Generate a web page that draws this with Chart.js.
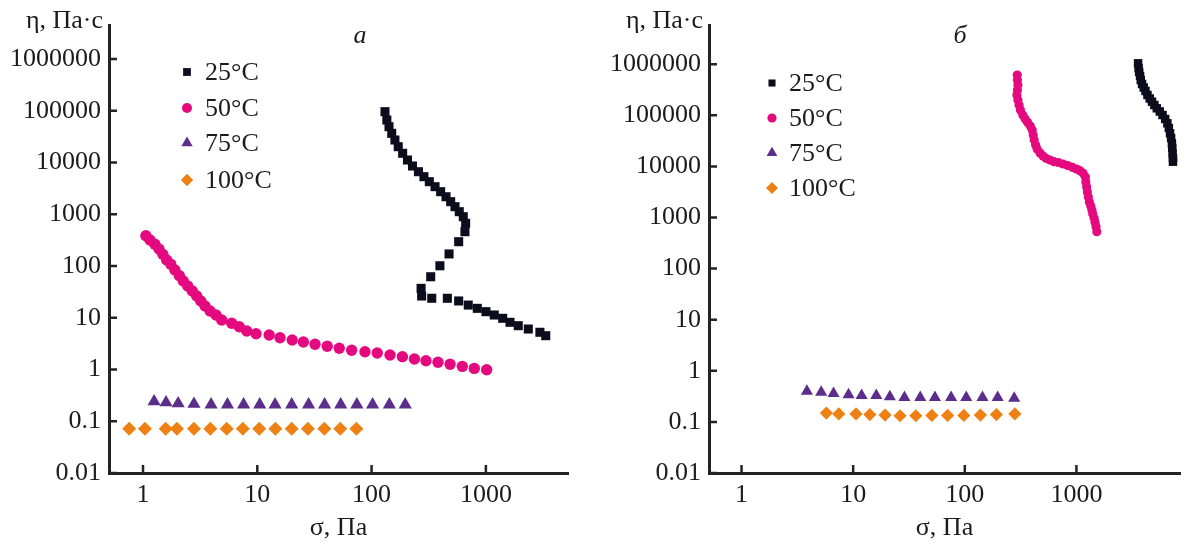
<!DOCTYPE html>
<html>
<head>
<meta charset="utf-8">
<script src="https://cdn.jsdelivr.net/npm/chart.js@4/dist/chart.umd.min.js"></script>
<style>
  html, body { margin: 0; padding: 0; background: #fff; }
  #wrap { position: relative; width: 1187px; height: 544px; overflow: hidden; }
  canvas { position: absolute; top: 0; }
  #chartA { left: 0; }
  #chartB { left: 600px; }
</style>
</head>
<body>
<div id="wrap">
  <canvas id="chartA" width="600" height="544"></canvas>
  <canvas id="chartB" width="587" height="544"></canvas>
</div>
<script>
// ---- panel а : σ (Па) and η (Па·с) ----
const sigmaA25 = [131, 136, 142, 150, 160, 171, 187, 206, 228, 257, 287, 320, 359, 402, 448, 492, 537, 585, 634, 665,
                  656, 578, 476, 396, 329, 271, 274, 336, 460, 578, 701, 841, 1002, 1184, 1403, 1625, 1920, 2350, 2970, 3340];
const etaA25   = [96000, 66200, 49200, 36600, 27200, 20200, 15070, 11170, 8560, 6640, 5320, 4260, 3410, 2730, 2180, 1750, 1400, 1120, 897, 668,
                  460, 295, 171, 101, 62, 37, 26.3, 23.8, 23.8, 21.1, 17.6, 15.2, 13.1, 11.3, 9.76, 8.17, 7.02, 6.06, 5.24, 4.5];

const sigmaA50 = [1.06, 1.15, 1.27, 1.38, 1.49, 1.61, 1.75, 1.9, 2.08, 2.25, 2.46, 2.7, 2.95, 3.2, 3.49, 3.86, 4.35, 4.88, 5.97, 6.96,
                  8.08, 9.75, 12.7, 15.8, 20.2, 25.3, 32.0, 40.9, 52.1, 66.9, 87.5, 112, 145, 186, 237, 299, 381, 486, 622, 792, 1016];
const etaA50   = [385, 318, 263, 213, 168, 131, 108, 83.7, 65.0, 51.3, 41.1, 32.9, 26.3, 21.1, 16.9, 13.5, 11.3, 9.05, 7.81, 6.71,
                  5.55, 4.92, 4.64, 4.12, 3.72, 3.4, 3.07, 2.81, 2.57, 2.35, 2.21, 2.08, 1.91, 1.77, 1.6, 1.48, 1.38, 1.26, 1.15, 1.05, 0.99];

const sigmaA75 = [1.25, 1.59, 2.03, 2.79, 3.94, 5.48, 7.59, 10.5, 14.3, 20.0, 28.1, 38.8, 53.7, 74.3, 102, 143, 197];
const etaA75   = [0.24, 0.23, 0.22, 0.215, 0.21, 0.21, 0.21, 0.21, 0.21, 0.21, 0.21, 0.21, 0.21, 0.21, 0.21, 0.21, 0.21];

const sigmaA100 = [0.757, 1.04, 1.58, 1.98, 2.79, 3.88, 5.4, 7.47, 10.4, 14.4, 20.0, 27.7, 38.6, 53.2, 73.6];
const etaA100   = [0.072, 0.072, 0.072, 0.072, 0.072, 0.072, 0.072, 0.072, 0.072, 0.072, 0.072, 0.072, 0.072, 0.072, 0.072];

// ---- panel б ----
const sigmaB25 = [3568, 3605, 3649, 3717, 3770, 3871, 4007, 4157, 4330, 4537, 4753, 4990, 5250, 5581, 5907, 6240, 6526,
                  6728, 6894, 7050, 7166, 7224, 7268, 7328, 7328];
const etaB25   = [1041000, 842500, 703800, 587800, 490700, 409700, 349900, 298900, 249700, 213200, 184600, 159100, 137100,
                  118700, 101400, 84650, 69720, 56430, 44440, 35960, 28320, 22920, 18050, 14600, 12360];

const sigmaB50 = [295, 296, 299, 296, 293, 299, 306, 315, 331, 348, 366, 386, 402, 410, 418, 431, 445, 472, 502, 534, 579,
                  628, 688, 759, 835, 920, 1002, 1074, 1144, 1203, 1215, 1235, 1253, 1279, 1305, 1345, 1376, 1402, 1442, 1469, 1499, 1523];
const etaB50   = [615000, 491000, 392000, 313000, 250000, 199000, 159000, 127000, 101400, 84650, 72290, 61740, 51570, 41170,
                  32850, 26230, 21900, 18290, 15980, 14400, 13340, 12360, 11920, 11140, 10410, 9603, 8896, 8241, 7428, 6204,
                  4951, 3954, 3155, 2519, 2011, 1679, 1402, 1171, 964, 798, 661, 528];

const sigmaB75 = [3.85, 5.17, 6.67, 9.09, 11.9, 16.1, 21.3, 28.8, 39.9, 54.0, 75.4, 103, 144, 197, 277];
const etaB75   = [0.40, 0.38, 0.36, 0.34, 0.33, 0.33, 0.31, 0.30, 0.30, 0.30, 0.30, 0.30, 0.30, 0.30, 0.29];

const sigmaB100 = [5.75, 7.43, 10.6, 14.1, 19.3, 26.3, 36.4, 50.7, 70.2, 98.0, 138, 192, 281];
const etaB100   = [0.149, 0.143, 0.143, 0.139, 0.136, 0.132, 0.132, 0.134, 0.134, 0.134, 0.136, 0.139, 0.143];

// ---- axes / legend ----
const sigmaTicks = [1, 10, 100, 1000];
const etaTicks = [0.01, 0.1, 1, 10, 100, 1000, 10000, 100000, 1000000];
const tempLabels = ['25°C', '50°C', '75°C', '100°C'];
const panelLetters = ['а', 'б'];

const FONT = '"Liberation Serif", "Times New Roman", serif';
const TEXT = '#1b1b1b';
const AXIS = '#232323';
const COLORS = ['#0d0c1d', '#e5097f', '#5c2d8a', '#ee8114'];
const STYLES = ['rect', 'circle', 'triangle', 'rectRot'];

function pts(xs, ys) {
    return xs.map((x, i) => ({ x: x, y: ys[i] }));
}

function fmt(v) {
    return String(v);
}

function drawMarker(ctx, style, r, x, y) {
    if (Chart.helpers && Chart.helpers.drawPoint) {
        Chart.helpers.drawPoint(ctx, { pointStyle: style, rotation: 0, radius: r, borderWidth: 0 }, x, y);
        return;
    }
    ctx.beginPath();
    ctx.arc(x, y, r, 0, Math.PI * 2);
    ctx.fill();
}

// inward tick marks, η label, panel letter and legend
const deco = {
    id: 'deco',
    afterDraw(chart, args, o) {
        const { ctx, chartArea: a, scales: { x, y } } = chart;
        ctx.save();
        ctx.strokeStyle = AXIS;
        ctx.lineWidth = 2.5;
        ctx.beginPath();
        x.ticks.forEach(t => {
            const px = x.getPixelForValue(t.value);
            ctx.moveTo(px, a.bottom);
            ctx.lineTo(px, a.bottom - 8);
        });
        y.ticks.forEach(t => {
            const py = y.getPixelForValue(t.value);
            ctx.moveTo(a.left, py);
            ctx.lineTo(a.left + 8, py);
        });
        ctx.stroke();

        ctx.fillStyle = TEXT;
        ctx.font = '26px ' + FONT;
        ctx.textAlign = 'right';
        ctx.textBaseline = 'middle';
        ctx.fillText('η, Па·с', a.left - 6, 21);

        ctx.font = 'italic 26px ' + FONT;
        ctx.textAlign = 'center';
        ctx.fillText(o.letter, o.letterX, 36);

        ctx.font = '26px ' + FONT;
        ctx.textAlign = 'left';
        o.rows.forEach((rowY, i) => {
            ctx.fillStyle = COLORS[i];
            drawMarker(ctx, STYLES[i], o.legendR[i], o.markX, rowY);
            ctx.fillStyle = TEXT;
            ctx.fillText(tempLabels[i], o.textX, rowY + 1);
        });
        ctx.restore();
    }
};

function makeChart(id, series, radii, xRange, yRange, padRight, decoOpts) {
    const datasets = series.map((s, i) => ({
        label: tempLabels[i],
        data: pts(s[0], s[1]),
        showLine: false,
        pointStyle: STYLES[i],
        pointRadius: radii[i],
        pointBackgroundColor: COLORS[i],
        pointBorderWidth: 0,
        clip: false
    }));

    const tickFont = { family: FONT, size: 26 };

    return new Chart(document.getElementById(id), {
        type: 'scatter',
        data: { datasets },
        options: {
            responsive: false,
            animation: false,
            devicePixelRatio: 1,
            layout: { padding: { top: 25, right: padRight, bottom: 0, left: 0 } },
            plugins: {
                legend: { display: false },
                tooltip: { enabled: false },
                deco: decoOpts
            },
            scales: {
                x: {
                    type: 'logarithmic',
                    position: 'bottom',
                    min: xRange[0],
                    max: xRange[1],
                    afterBuildTicks: s => { s.ticks = sigmaTicks.map(v => ({ value: v })); },
                    afterFit: s => { s.height = 71; },
                    grid: { display: false, drawTicks: false },
                    border: { display: true, width: 3, color: AXIS },
                    ticks: { padding: 7, color: TEXT, font: tickFont, maxRotation: 0, autoSkip: false, callback: fmt },
                    title: { display: true, text: 'σ, Па', color: TEXT, font: tickFont, padding: { top: 0, bottom: 0 } }
                },
                y: {
                    type: 'logarithmic',
                    position: 'left',
                    min: yRange[0],
                    max: yRange[1],
                    afterBuildTicks: s => { s.ticks = etaTicks.map(v => ({ value: v })); },
                    afterFit: s => { s.width = 109; },
                    grid: { display: false, drawTicks: false },
                    border: { display: true, width: 3, color: AXIS },
                    ticks: { padding: 8, color: TEXT, font: tickFont, autoSkip: false, callback: fmt }
                }
            }
        },
        plugins: [deco]
    });
}

makeChart('chartA',
    [[sigmaA25, etaA25], [sigmaA50, etaA50], [sigmaA75, etaA75], [sigmaA100, etaA100]],
    [6.4, 5.7, 7.6, 7],
    [0.504, 5230], [0.01, 4.54e6], 32,
    { letter: panelLetters[0], letterX: 360, markX: 187, textX: 205,
      rows: [72, 108, 143, 180], legendR: [5.5, 5, 6.6, 6.2] });

makeChart('chartB',
    [[sigmaB25, etaB25], [sigmaB50, etaB50], [sigmaB75, etaB75], [sigmaB100, etaB100]],
    [6, 4.6, 7, 6.6],
    [0.511, 8470], [0.01, 5.85e6], 0,
    { letter: panelLetters[1], letterX: 360, markX: 172, textX: 189,
      rows: [83, 118, 153, 188], legendR: [5, 4.6, 6.2, 6] });
</script>
</body>
</html>
